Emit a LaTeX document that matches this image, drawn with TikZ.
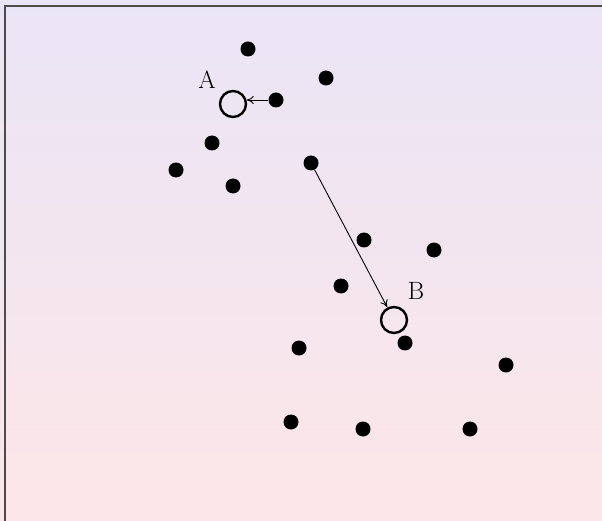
\documentclass[tikz,border=0pt]{standalone}
\usetikzlibrary{arrows.meta}
\definecolor{bgtop}{RGB}{234,229,246}
\definecolor{bgbot}{RGB}{253,230,232}
\begin{document}
\begin{tikzpicture}[x=1pt,y=-1pt,
  dot/.style={circle,fill=black,inner sep=0pt,minimum size=15pt},
  target/.style={circle,draw=black,line width=2.4pt,inner sep=0pt,minimum size=26pt},
  lbl/.style={inner sep=0pt,font=\fontsize{25}{30}\selectfont},
  link/.style={-{To[length=7pt,width=8pt]},line width=0.9pt,shorten >=0.5pt}]
\useasboundingbox (0,0) rectangle (602,521);
\shade[top color=bgtop,bottom color=bgbot] (0,0) rectangle (602,521);
\draw[line width=2pt,black!70] (4.5,6.5) rectangle (640,560);
% dots
\node[dot] (d1) at (248,49) {};
\node[dot] (d2) at (326,78) {};
\node[dot] (d3) at (276,100) {};
\node[dot] (d4) at (212,143) {};
\node[dot] (d5) at (176,170) {};
\node[dot] (d6) at (233,186) {};
\node[dot] (d7) at (311,163) {};
\node[dot] (d8) at (364,240) {};
\node[dot] (d9) at (434,250) {};
\node[dot] (d10) at (341,286) {};
\node[dot] (d11) at (405,343) {};
\node[dot] (d12) at (299,348) {};
\node[dot] (d13) at (506,365) {};
\node[dot] (d14) at (291,422) {};
\node[dot] (d15) at (363,429) {};
\node[dot] (d16) at (470,429) {};
% targets
\node[target] (ta) at (233,104) {};
\node[target] (tb) at (394,320) {};
\node[lbl] (la) at (207,80) {A};
\node[lbl] (lb) at (416,291) {B};
% links
\coordinate (ahit) at ([xshift=-1pt]ta.east |- d3);
\draw[link] (d3) -- (ahit);
\draw[link] (d7) -- (tb);
\end{tikzpicture}
\end{document}
